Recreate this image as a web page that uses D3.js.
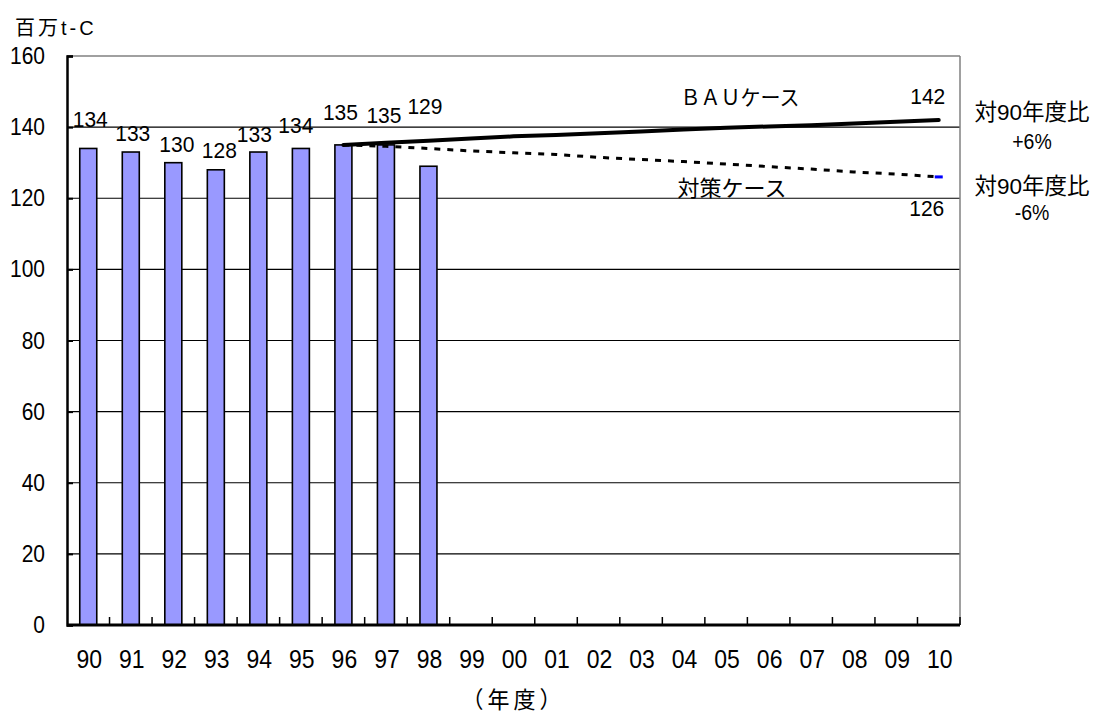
<!DOCTYPE html>
<html>
<head>
<meta charset="utf-8">
<script src="https://cdn.jsdelivr.net/npm/d3@7"></script>
<style>
  html, body { margin: 0; padding: 0; background: #fff; }
  svg text { font-family: "Liberation Sans", Arial, "Noto Sans CJK JP", sans-serif; fill: #000; }
</style>
</head>
<body>
<svg id="chart" width="1095" height="717"></svg>
<script>
// Fiscal years on the category axis
const years = ["90","91","92","93","94","95","96","97","98","99","00","01","02","03","04","05","06","07","08","09","10"];

// Recorded emissions (million t-C), FY1990–FY1998
const actualYears = ["90","91","92","93","94","95","96","97","98"];
const actualValues = [134, 133, 130, 128, 133, 134, 135, 135, 129];

// Projection years (FY1996–FY2010)
const projYears = ["96","97","98","99","00","01","02","03","04","05","06","07","08","09","10"];
// Business-as-usual projection
const bauValues = [135, 135.6, 136.2, 136.8, 137.4, 137.8, 138.3, 138.8, 139.3, 139.8, 140.2, 140.5, 141, 141.5, 142];
// Projection with countermeasures
const policyValues = [135, 134.6, 134, 133.3, 132.8, 132.3, 131.5, 130.9, 130.3, 129.6, 128.9, 128.2, 127.4, 126.8, 126];

// Y-axis ticks
const yTicks = [0, 20, 40, 60, 80, 100, 120, 140, 160];

// Hand-placed offsets of the bar value labels (px): horizontal shift, lift above bar top
const labelShiftX = [2, 2, 3.5, 3.5, -4, -5, -3, -2, -3.5];
const labelLift   = [29, 18, 18, 19, 17, 23, 32, 29, 59];

const svg = d3.select("#chart");
const plotLeft = 67, plotRight = 960, plotTop = 56, plotBottom = 625;

const x = d3.scaleBand().domain(years).range([plotLeft, plotRight]).padding(0);
const y = d3.scaleLinear().domain([0, 160]).range([plotBottom, plotTop]);
const cx = d => x(d) + x.bandwidth() / 2;
const barW = 17;

// Text placed at (px, py), slightly stretched vertically like the original typeface
function label(parent, px, py, txt, size, stretch = 1) {
  return parent.append("text")
    .attr("transform", `translate(${px},${py}) scale(1,${stretch})`)
    .attr("text-anchor", "middle")
    .attr("dominant-baseline", "central")
    .attr("font-size", size)
    .text(txt);
}

// Horizontal gridlines
svg.append("g").selectAll("line")
  .data(yTicks.filter(v => v > 0 && v < 160))
  .join("line")
  .attr("x1", plotLeft).attr("x2", plotRight)
  .attr("y1", d => y(d)).attr("y2", d => y(d))
  .attr("stroke", "#000").attr("stroke-width", 1.2);

// Plot frame: top and right edges in grey
svg.append("line").attr("x1", plotLeft).attr("x2", plotRight).attr("y1", y(160)).attr("y2", y(160))
  .attr("stroke", "#808080").attr("stroke-width", 1.5);
svg.append("line").attr("x1", plotRight).attr("x2", plotRight).attr("y1", y(160)).attr("y2", y(0))
  .attr("stroke", "#808080").attr("stroke-width", 1.5);

// Bars
svg.append("g").selectAll("rect")
  .data(actualValues)
  .join("rect")
  .attr("x", (d, i) => cx(actualYears[i]) - barW / 2)
  .attr("y", d => y(d))
  .attr("width", barW)
  .attr("height", d => y(0) - y(d))
  .attr("fill", "#9999FF")
  .attr("stroke", "#000")
  .attr("stroke-width", 1.6);

// Bar value labels
const gLabels = svg.append("g");
actualValues.forEach((v, i) => {
  label(gLabels, cx(actualYears[i]) + labelShiftX[i], y(v) - labelLift[i], v, 21, 1.05);
});

// Y axis
const yAxis = d3.axisLeft(y).tickValues(yTicks).tickSize(-6).tickPadding(22).tickFormat(d3.format("d"));
const gy = svg.append("g").attr("transform", `translate(${plotLeft},0)`).call(yAxis);
gy.select(".domain").attr("stroke", "#000").attr("stroke-width", 2.5);
gy.selectAll(".tick line").attr("stroke", "#000").attr("stroke-width", 2);
gy.selectAll(".tick text")
  .attr("font-size", 21).attr("font-family", null).attr("fill", "#000")
  .attr("transform", "scale(1,1.12)");

// X axis: ticks sit on the category boundaries, pointing inward
const boundaries = years.map(d => x(d)).slice(1).concat([plotRight]);
svg.append("g").selectAll("line")
  .data(boundaries)
  .join("line")
  .attr("x1", d => d).attr("x2", d => d)
  .attr("y1", plotBottom).attr("y2", plotBottom - 8)
  .attr("stroke", "#000").attr("stroke-width", 1.5);
svg.append("line").attr("x1", plotLeft).attr("x2", plotRight).attr("y1", plotBottom).attr("y2", plotBottom)
  .attr("stroke", "#000").attr("stroke-width", 3);

const gx = svg.append("g");
years.forEach(d => label(gx, cx(d) + 1, 659, d, 23, 1.15));

// Axis titles
svg.append("text").attr("x", 15).attr("y", 35).attr("font-size", 20)
  .attr("letter-spacing", 3)
  .text("百万t-C");
label(svg, (plotLeft + plotRight) / 2, 700, "（年度）", 22, 1.05).attr("letter-spacing", 4);

// Projection lines
const line = d3.line().x((d, i) => cx(projYears[i])).y(d => y(d));
svg.append("path").datum(bauValues)
  .attr("d", line)
  .attr("fill", "none").attr("stroke", "#000").attr("stroke-width", 4)
  .attr("stroke-linecap", "round");
svg.append("path").datum(policyValues)
  .attr("d", line)
  .attr("fill", "none").attr("stroke", "#000").attr("stroke-width", 3)
  .attr("stroke-dasharray", "6,7");

// End-point marker of the countermeasure line
const lastYear = projYears[projYears.length - 1];
const lastPolicy = policyValues[policyValues.length - 1];
svg.append("rect")
  .attr("x", cx(lastYear) - 4).attr("y", y(lastPolicy) - 1.5)
  .attr("width", 8).attr("height", 3).attr("fill", "#0000FF");

// End-point value labels
const lastBau = bauValues[bauValues.length - 1];
label(svg, cx(lastYear) - 11, y(lastBau) - 23, lastBau, 21, 1.05);
label(svg, cx(lastYear) - 12, y(lastPolicy) + 32, lastPolicy, 21, 1.05);

// Series names
label(svg, 740, 97, "ＢＡＵケース", 20, 1.05);
label(svg, 732, 188, "対策ケース", 22, 1.0);

// Change versus FY1990
const baseValue = actualValues[0];
const pct = v => (v >= baseValue ? "+" : "-") + Math.round(Math.abs(v - baseValue) / baseValue * 100) + "%";
const notes = [
  { t: "対90年度比", y: 112, size: 22.5 },
  { t: pct(lastBau), y: 141, size: 19.5 },
  { t: "対90年度比", y: 186, size: 22.5 },
  { t: pct(lastPolicy), y: 212, size: 19.5 }
];
notes.forEach(n => label(svg, 1032, n.y, n.t, n.size, n.t.endsWith("%") ? 1.12 : 1.0));
</script>
</body>
</html>
